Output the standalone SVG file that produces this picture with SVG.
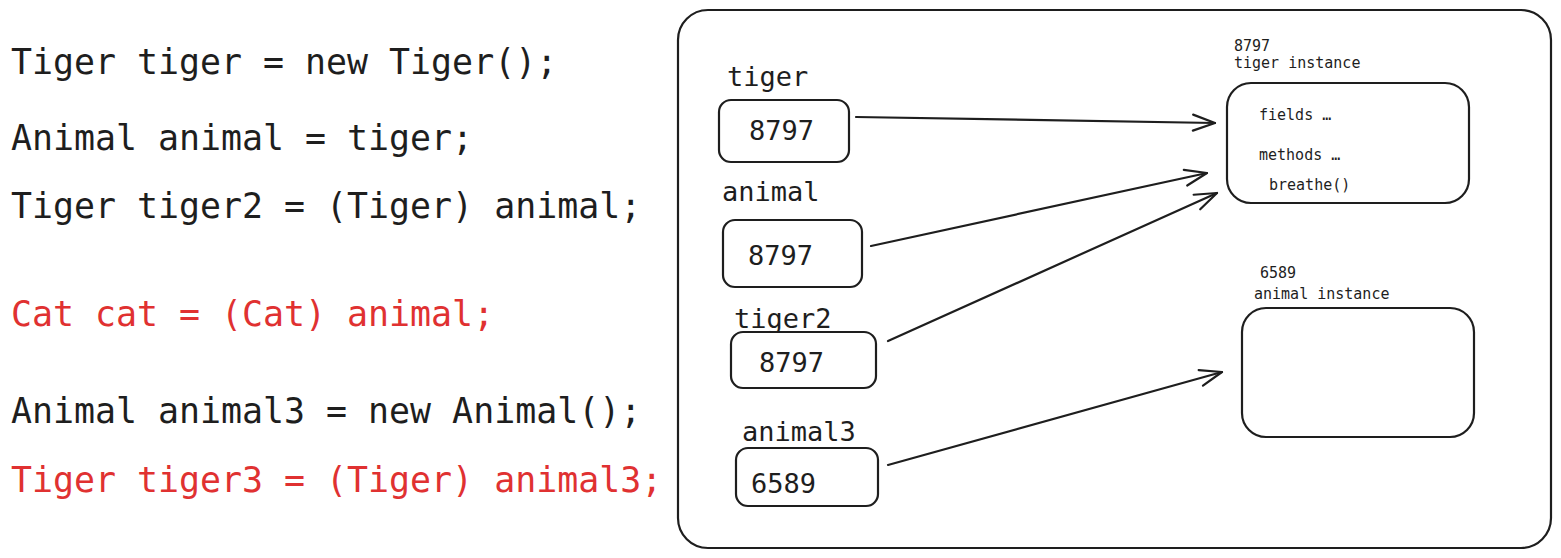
<svg xmlns="http://www.w3.org/2000/svg" width="1561" height="558" viewBox="0 0 1561 558">
<defs>
<style>
.code{font-family:"DejaVu Sans Mono","Liberation Mono",monospace;font-size:34.9px;fill:#1e1e1e}
.red{fill:#e03131}
.lbl{font-family:"DejaVu Sans Mono","Liberation Mono",monospace;font-size:27px;fill:#1e1e1e}
.sm{font-family:"DejaVu Sans Mono","Liberation Mono",monospace;font-size:15px;fill:#1e1e1e}
.box{fill:#ffffff;stroke:#1e1e1e;stroke-width:2.2}
.edge{fill:none;stroke:#1e1e1e;stroke-width:2.2;stroke-linecap:round}
</style>
<marker id="arr" viewBox="-24 -12 28 24" refX="0" refY="0" markerWidth="28" markerHeight="24" markerUnits="userSpaceOnUse" orient="auto">
<path d="M-22,-8 L0,0 L-22,8" fill="none" stroke="#1e1e1e" stroke-width="2.2" stroke-linecap="round" stroke-linejoin="round"/>
</marker>
</defs>
<rect width="1561" height="558" fill="#ffffff"/>

<g id="code">
<text class="code" x="11" y="74">Tiger tiger = new Tiger();</text>
<text class="code" x="11" y="150">Animal animal = tiger;</text>
<text class="code" x="11" y="218">Tiger tiger2 = (Tiger) animal;</text>
<text class="code red" x="11" y="326">Cat cat = (Cat) animal;</text>
<text class="code" x="11" y="423">Animal animal3 = new Animal();</text>
<text class="code red" x="11" y="492">Tiger tiger3 = (Tiger) animal3;</text>
</g>

<g id="frame">
<rect class="box" x="678" y="10" width="873" height="538" rx="30" ry="30"/>
</g>

<g id="var-tiger">
<text class="lbl" x="727" y="86">tiger</text>
<rect class="box" x="719" y="100" width="130" height="62" rx="12" ry="12"/>
<text class="lbl" x="749" y="140">8797</text>
</g>

<g id="var-animal">
<text class="lbl" x="722" y="201">animal</text>
<rect class="box" x="723" y="220" width="139" height="67" rx="12" ry="12"/>
<text class="lbl" x="748" y="265">8797</text>
</g>

<g id="var-tiger2">
<text class="lbl" x="734" y="328">tiger2</text>
<rect class="box" x="731" y="332" width="145" height="56" rx="12" ry="12"/>
<text class="lbl" x="759" y="372">8797</text>
</g>

<g id="var-animal3">
<text class="lbl" x="742" y="441">animal3</text>
<rect class="box" x="736" y="448" width="142" height="58" rx="12" ry="12"/>
<text class="lbl" x="751" y="493">6589</text>
</g>

<g id="tiger-instance">
<text class="sm" x="1234" y="51">8797</text>
<text class="sm" x="1234" y="68">tiger instance</text>
<rect class="box" x="1227" y="83" width="242" height="120" rx="24" ry="24"/>
<text class="sm" x="1259" y="120">fields …</text>
<text class="sm" x="1259" y="160">methods …</text>
<text class="sm" x="1269" y="190">breathe()</text>
</g>

<g id="animal-instance">
<text class="sm" x="1260" y="278">6589</text>
<text class="sm" x="1254" y="299">animal instance</text>
<rect class="box" x="1242" y="308" width="232" height="129" rx="24" ry="24"/>
</g>

<g id="connectors">
<path class="edge" d="M856,117 L1215,123" marker-end="url(#arr)"/>
<path class="edge" d="M871,246 L1207,173" marker-end="url(#arr)"/>
<path class="edge" d="M888,341 L1217,193" marker-end="url(#arr)"/>
<path class="edge" d="M888,465 L1222,372" marker-end="url(#arr)"/>
</g>
</svg>
